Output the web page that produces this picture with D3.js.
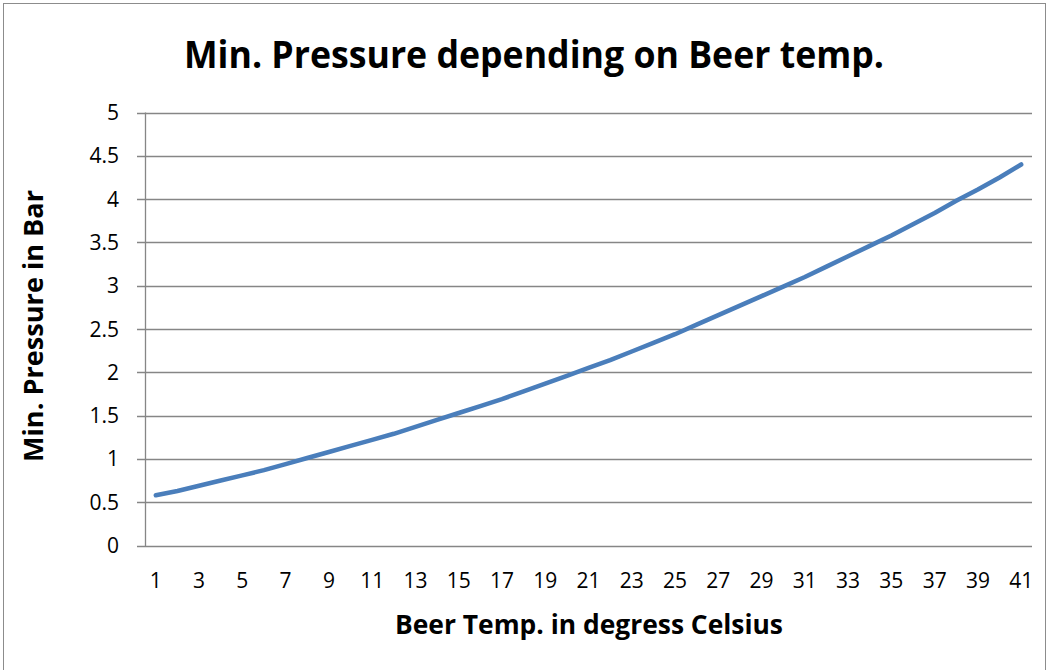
<!DOCTYPE html>
<html><head><meta charset="utf-8">
<script src="https://cdn.jsdelivr.net/npm/d3@7"></script>
<style>body{margin:0;background:#fff}svg{display:block}</style>
</head><body>
<svg id="c" width="1049" height="670"></svg>
<script>
const temps = d3.range(1, 42);
const pressure = [0.58,0.63,0.69,0.75,0.81,0.87,0.94,1.01,1.08,1.15,1.22,1.29,1.37,1.45,1.53,1.61,1.69,1.78,1.87,1.96,2.05,2.14,2.24,2.34,2.44,2.55,2.66,2.77,2.88,2.99,3.10,3.22,3.34,3.46,3.58,3.71,3.84,3.98,4.11,4.25,4.40];
const yTicks = [0,0.5,1,1.5,2,2.5,3,3.5,4,4.5,5];
const xTickLabels = temps.filter(t => t % 2 === 1);
const title = "Min. Pressure depending on Beer temp.";
const xTitle = "Beer Temp. in degress Celsius";
const yTitle = "Min. Pressure in Bar";

const svg = d3.select("#c");
const font = "'Open Sans', sans-serif";
svg.append("rect").attr("x",3.5).attr("y",3.5).attr("width",1042).attr("height",700)
  .attr("fill","#fff").attr("stroke","#8c8c8c").attr("stroke-width",1);

const x = d3.scalePoint().domain(temps).range([145,1032]).padding(0.5);
const y = d3.scaleLinear().domain([0,5]).range([545.5,112.5]);

// gridlines
svg.append("g").selectAll("line").data(yTicks).join("line")
  .attr("x1",137).attr("x2",1032).attr("y1",d=>Math.round(y(d))+0.5).attr("y2",d=>Math.round(y(d))+0.5)
  .attr("stroke","#868686").attr("stroke-width",1.3);
// y axis line
svg.append("line").attr("x1",145.5).attr("x2",145.5).attr("y1",112.5).attr("y2",546)
  .attr("stroke","#868686").attr("stroke-width",1.3);

// y tick labels
svg.append("g").selectAll("text").data(yTicks).join("text")
  .attr("x",119).attr("y",d=>y(d)).attr("dy","0.36em").attr("text-anchor","end")
  .attr("font-family",font).attr("font-size",21).attr("fill","#000")
  .text(d=>d);

// x tick labels
svg.append("g").selectAll("text").data(xTickLabels).join("text")
  .attr("x",d=>x(d)).attr("y",580).attr("dy","0.36em").attr("text-anchor","middle")
  .attr("font-family",font).attr("font-size",21).attr("fill","#000")
  .text(d=>d);

// line
const line = d3.line().x((d,i)=>x(temps[i])).y(d=>y(d));
svg.append("path").datum(pressure).attr("d",line).attr("fill","none")
  .attr("stroke","#4a7ebb").attr("stroke-width",4.5).attr("stroke-linecap","round").attr("stroke-linejoin","round");

// titles
svg.append("text").attr("x",534).attr("y",68).attr("text-anchor","middle")
  .attr("font-family",font).attr("font-weight","bold").attr("font-size",38)
  .attr("textLength",700).attr("lengthAdjust","spacingAndGlyphs").text(title);
svg.append("text").attr("x",589).attr("y",634).attr("text-anchor","middle")
  .attr("font-family",font).attr("font-weight","bold").attr("font-size",26)
  .attr("textLength",388).attr("lengthAdjust","spacingAndGlyphs").text(xTitle);
svg.append("text").attr("transform","translate(43,326) rotate(-90)").attr("text-anchor","middle")
  .attr("font-family",font).attr("font-weight","bold").attr("font-size",26)
  .attr("textLength",272).attr("lengthAdjust","spacingAndGlyphs").text(yTitle);
</script>
</body></html>
